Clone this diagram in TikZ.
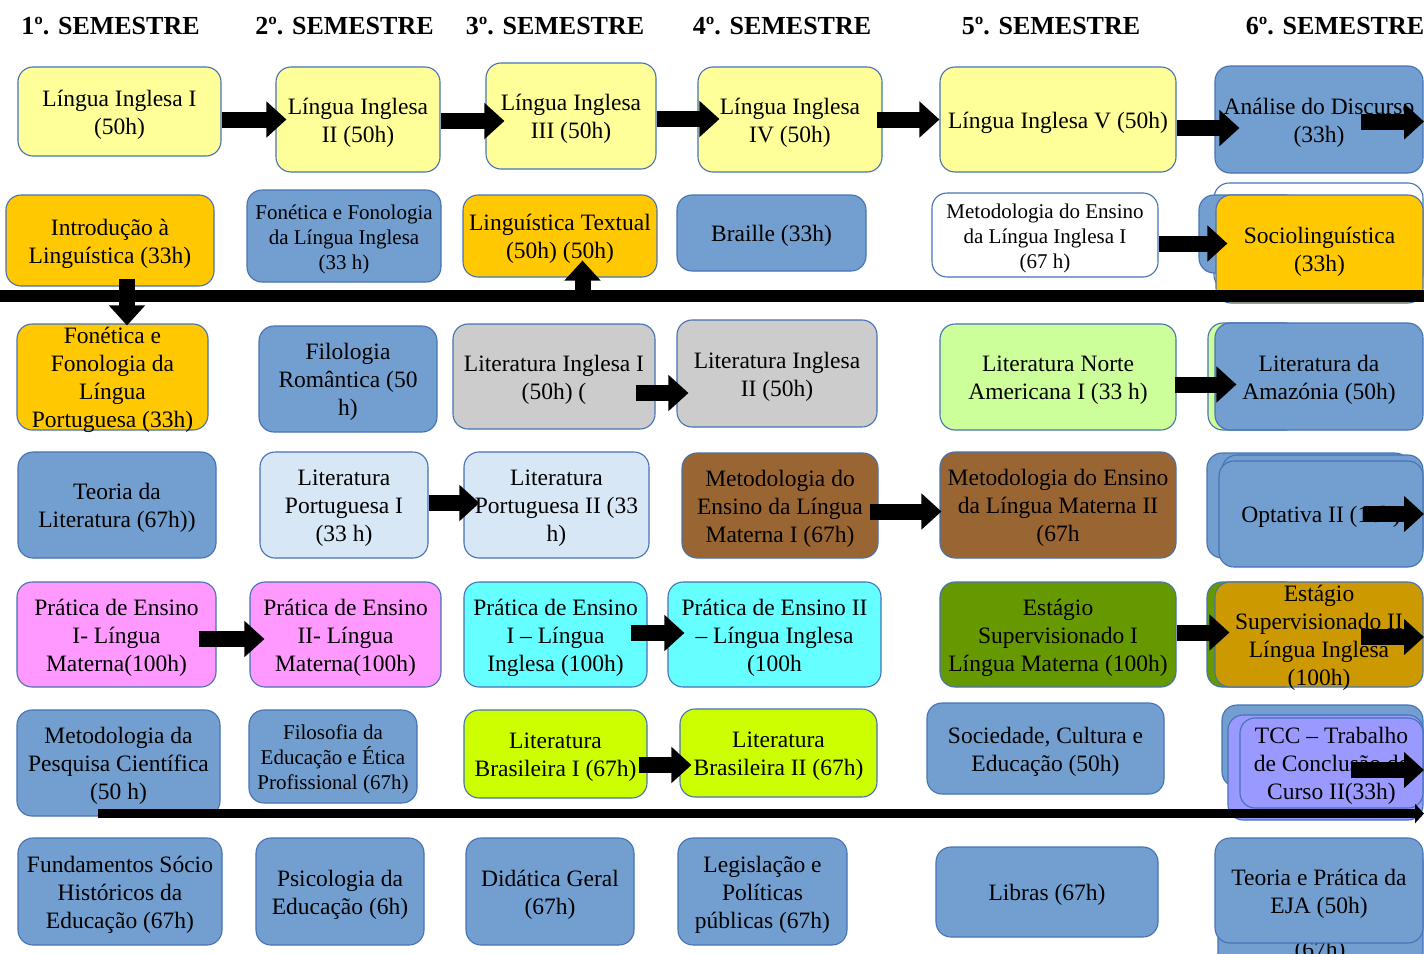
\documentclass[tikz,border=0pt]{standalone}
\usepackage{fontspec}
\setmainfont{Liberation Serif}
\usetikzlibrary{arrows.meta,calc}
\definecolor{bd}{RGB}{70,114,180}
\definecolor{cblue}{RGB}{114,159,207}
\definecolor{cyel}{RGB}{255,255,153}
\definecolor{corange}{RGB}{255,200,0}
\definecolor{cgray}{RGB}{204,204,204}
\definecolor{clgreen}{RGB}{204,255,153}
\definecolor{clblue}{RGB}{215,231,245}
\definecolor{cbrown}{RGB}{153,102,51}
\definecolor{cpink}{RGB}{255,153,255}
\definecolor{ccyan}{RGB}{102,255,255}
\definecolor{cgreen}{RGB}{102,153,0}
\definecolor{cgold}{RGB}{204,153,0}
\definecolor{clime}{RGB}{204,255,0}
\definecolor{cpurple}{RGB}{153,153,255}
\tikzset{
  box/.style={draw=bd, line width=1.1pt, rounded corners=15pt, inner sep=0pt},
  txt/.style={align=center, inner sep=0pt, text=black, font=\fontsize{23.5}{28}\selectfont},
  fsmall/.style={font=\fontsize{21}{25}\selectfont},
  head/.style={font=\bfseries\fontsize{26}{30}\selectfont, inner sep=0pt},
  barrow/.style={line width=16pt, -{Triangle[length=20pt,width=35pt]}},
  bar/.style={line width=12pt},
  bline/.style={line width=9pt, -{Triangle[length=9pt,width=19pt]}},
}
\newcommand{\bx}[7]{%
  \node[box,#2,minimum width={#5-#3},minimum height={#6-#4}] (#1) at ({(#3+#5)/2},{(#4+#6)/2}) {};
  \node[txt,#2,fill=none,draw=none] (#1t) at ({(#3+#5)/2},{(#4+#6)/2+3}) {#7};}
\begin{document}
\begin{tikzpicture}[x=1pt,y=-1pt]
\fill[white] (0,0) rectangle (1424,953);
\useasboundingbox (0,0) rectangle (1424,953);
\coordinate (edgeR) at (1424,0);
\coordinate (barL) at (0,295.5);
\coordinate (barR) at (1424,295.5);
% headers
\node[head] (h1) at (110.5,26) {1º. SEMESTRE};
\node[head] (h2) at (344.5,26) {2º. SEMESTRE};
\node[head] (h3) at (555,26) {3º. SEMESTRE};
\node[head] (h4) at (782,26) {4º. SEMESTRE};
\node[head] (h5) at (1051,26) {5º. SEMESTRE};
\node[head] (h6) at (1335,26) {6º. SEMESTRE};
% row 1
\bx{L1}{fill=cyel}{18}{67}{221}{156}{Língua Inglesa I\\(50h)}
\bx{L2}{fill=cyel}{276}{67}{440}{172}{Língua Inglesa\\II (50h)}
\bx{L3}{fill=cyel}{486}{63}{656}{169}{Língua Inglesa\\III (50h)}
\bx{L4}{fill=cyel}{698}{67}{882}{172}{Língua Inglesa\\IV (50h)}
\bx{L5}{fill=cyel}{940}{67}{1176}{172}{Língua Inglesa V (50h)}
\bx{AD}{fill=cblue}{1215}{66}{1423}{173}{Análise do Discurso\\(33h)}
% row 2
\bx{Intro}{fill=corange}{6}{195}{214}{286}{Introdução à\\Linguística (33h)}
\bx{FonIngl}{fill=cblue,fsmall}{247}{190}{441}{282}{Fonética e Fonologia\\da Língua Inglesa\\(33 h)}
\bx{LingText}{fill=corange}{463}{195}{657}{277}{Linguística Textual\\(50h) (50h)}
\bx{Braille}{fill=cblue}{677}{195}{866}{271}{Braille (33h)}
\bx{MetLI}{fill=white,fsmall}{932}{193}{1158}{277}{Metodologia do Ensino\\da Língua Inglesa I\\(67 h)}
\bx{SocioW}{fill=white}{1214}{183}{1423}{290}{}
\bx{SocioB}{fill=cblue}{1199}{195}{1300}{273}{}
\bx{Socio}{fill=corange}{1216}{195}{1423}{303}{Sociolinguística\\(33h)}
% row 3
\bx{FonPort}{fill=corange}{17}{324}{208}{430}{Fonética e\\Fonologia da\\Língua\\Portuguesa (33h)}
\bx{Filologia}{fill=cblue}{259}{326}{437}{432}{Filologia\\Romântica (50\\h)}
\bx{LitIng1}{fill=cgray}{453}{324}{655}{429}{Literatura Inglesa I\\(50h) (}
\bx{LitIng2}{fill=cgray}{677}{320}{877}{427}{Literatura Inglesa\\II (50h)}
\bx{LitNorte}{fill=clgreen}{940}{324}{1176}{430}{Literatura Norte\\Americana I (33 h)}
\bx{LitAmazG}{fill=clgreen}{1208}{323}{1300}{430}{}
\bx{LitAmaz}{fill=cblue}{1215}{323}{1423}{430}{Literatura da\\Amazónia (50h)}
% row 4
\bx{TeoriaLit}{fill=cblue}{18}{452}{216}{558}{Teoria da\\Literatura (67h))}
\bx{LitPort1}{fill=clblue}{260}{452}{428}{558}{Literatura\\Portuguesa I\\(33 h)}
\bx{LitPort2}{fill=clblue}{464}{452}{649}{558}{Literatura\\Portuguesa II (33\\h)}
\bx{MetLM1}{fill=cbrown}{682}{453}{878}{558}{Metodologia do\\Ensino da Língua\\Materna I (67h)}
\bx{MetLM2}{fill=cbrown}{940}{452}{1176}{558}{Metodologia do Ensino\\da Língua Materna II\\(67h}
\bx{OptA}{fill=cblue}{1207}{453}{1410}{558}{}
\bx{OptB}{fill=cblue}{1222}{455}{1423}{563}{}
\bx{Opt}{fill=cblue}{1219}{461}{1423}{567}{Optativa II (16h)}
% row 5
\bx{PE1LM}{fill=cpink}{17}{582}{216}{687}{Prática de Ensino\\I- Língua\\Materna(100h)}
\bx{PE2LM}{fill=cpink}{250}{582}{441}{687}{Prática de Ensino\\II- Língua\\Materna(100h)}
\bx{PE1LI}{fill=ccyan}{464}{582}{647}{687}{Prática de Ensino\\I – Língua\\Inglesa (100h)}
\bx{PE2LI}{fill=ccyan}{668}{582}{881}{687}{Prática de Ensino II\\– Língua Inglesa\\(100h}
\bx{Est1}{fill=cgreen}{940}{582}{1176}{687}{Estágio\\Supervisionado I\\Língua Materna (100h)}
\bx{Est2G}{fill=cgreen}{1207}{582}{1300}{687}{}
\bx{Est2}{fill=cgold}{1215}{582}{1423}{687}{Estágio\\Supervisionado II\\Língua Inglesa\\(100h)}
% row 6
\bx{MetPesq}{fill=cblue}{17}{710}{220}{816}{Metodologia da\\Pesquisa Científica\\(50 h)}
\bx{Filosofia}{fill=cblue,fsmall}{249}{710}{417}{803}{Filosofia da\\Educação e Ética\\Profissional (67h)}
\bx{LitBras1}{fill=clime}{464}{710}{647}{798}{Literatura\\Brasileira I (67h)}
\bx{LitBras2}{fill=clime}{680}{709}{877}{797}{Literatura\\Brasileira II (67h)}
\bx{SocCult}{fill=cblue}{927}{703}{1164}{794}{Sociedade, Cultura e\\Educação (50h)}
\bx{TCCb}{fill=cblue}{1222}{705}{1423}{787}{}
\bx{TCCp}{fill=cpurple}{1228}{715}{1423}{820}{}
\bx{TCC}{fill=cpurple}{1240}{718}{1423}{808}{TCC – Trabalho\\de Conclusão de\\Curso II(33h)}
% row 7
\bx{Fund}{fill=cblue}{18}{838}{222}{945}{Fundamentos Sócio\\Históricos da\\Educação (67h)}
\bx{Psico}{fill=cblue}{256}{838}{424}{945}{Psicologia da\\Educação (6h)}
\bx{Didat}{fill=cblue}{466}{838}{634}{945}{Didática Geral\\(67h)}
\bx{Legis}{fill=cblue}{678}{838}{847}{945}{Legislação e\\Políticas\\públicas (67h)}
\bx{Libras}{fill=cblue}{936}{847}{1158}{937}{Libras (67h)}
\bx{EJAb}{fill=cblue}{1218}{846}{1423}{975}{}
\node[txt] (EJAt) at (1320,952) {(67h)};
\bx{EJA}{fill=cblue}{1215}{838}{1423}{943}{Teoria e Prática da\\EJA (50h)}
% bars
\draw[bar] (barL) -- (barR);
\draw[bline] ($(MetPesq.south)+(-21,-3)$) -- ($(MetPesq.south -| edgeR)+(0,-3)$);
% arrows
\draw[barrow] ($(L1.east)+(0,8)$) -- ($(L1.east -| L2.west)+(11,8)$);
\draw[barrow] ($(L2.east)+(0,1.5)$) -- ($(L2.east -| L3.west)+(19,1.5)$);
\draw[barrow] ($(L3.east)+(0,3)$) -- ($(L3.east -| L4.west)+(22,3)$);
\draw[barrow] ($(L4.east)+(-6,0)$) -- ($(L4.east -| L5.west)+(0,0)$);
\draw[barrow] ($(L5.east)+(0,8.5)$) -- ($(L5.east -| AD.west)+(25,8.5)$);
\draw[barrow] ($(AD.east)+(-63,2)$) -- ($(AD.east -| edgeR)+(0,2)$);
\draw[barrow] ($(MetLI.east)+(0,8.5)$) -- ($(MetLI.east -| Socio.west)+(12,8.5)$);
\draw[barrow] ($(Intro.south)+(17,-8)$) -- ($(Intro.south |- FonPort.north)+(17,2)$);
\draw[barrow] ($(LingText.south |- barL)+(22.5,0)$) -- ($(LingText.south)+(22.5,-17)$);
\draw[barrow] ($(LitIng1.east)+(-20,16.5)$) -- ($(LitIng1.east -| LitIng2.west)+(12,16.5)$);
\draw[barrow] ($(LitNorte.east)+(-2,7.5)$) -- ($(LitNorte.east -| LitAmaz.west)+(22,7.5)$);
\draw[barrow] ($(LitPort1.east)+(0,-2)$) -- ($(LitPort1.east -| LitPort2.west)+(16,-2)$);
\draw[barrow] ($(MetLM1.east)+(-9,6)$) -- ($(MetLM1.east -| MetLM2.west)+(2,6)$);
\draw[barrow] ($(Opt.east)+(-60,0)$) -- ($(Opt.east -| edgeR)$);
\draw[barrow] ($(PE1LM.east)+(-18,4.5)$) -- ($(PE1LM.east -| PE2LM.west)+(15,4.5)$);
\draw[barrow] ($(PE1LI.east)+(-17,-1.5)$) -- ($(PE1LI.east -| PE2LI.west)+(17,-1.5)$);
\draw[barrow] ($(Est1.east)+(0,-2)$) -- ($(Est1.east -| Est2.west)+(15,-2)$);
\draw[barrow] ($(Est2.east)+(-63,2.5)$) -- ($(Est2.east -| edgeR)+(0,2.5)$);
\draw[barrow] ($(LitBras1.east)+(-9,11)$) -- ($(LitBras1.east -| LitBras2.west)+(12,11)$);
\draw[barrow] ($(TCC.east)+(-73,7)$) -- ($(TCC.east -| edgeR)+(0,7)$);
\end{tikzpicture}
\end{document}
